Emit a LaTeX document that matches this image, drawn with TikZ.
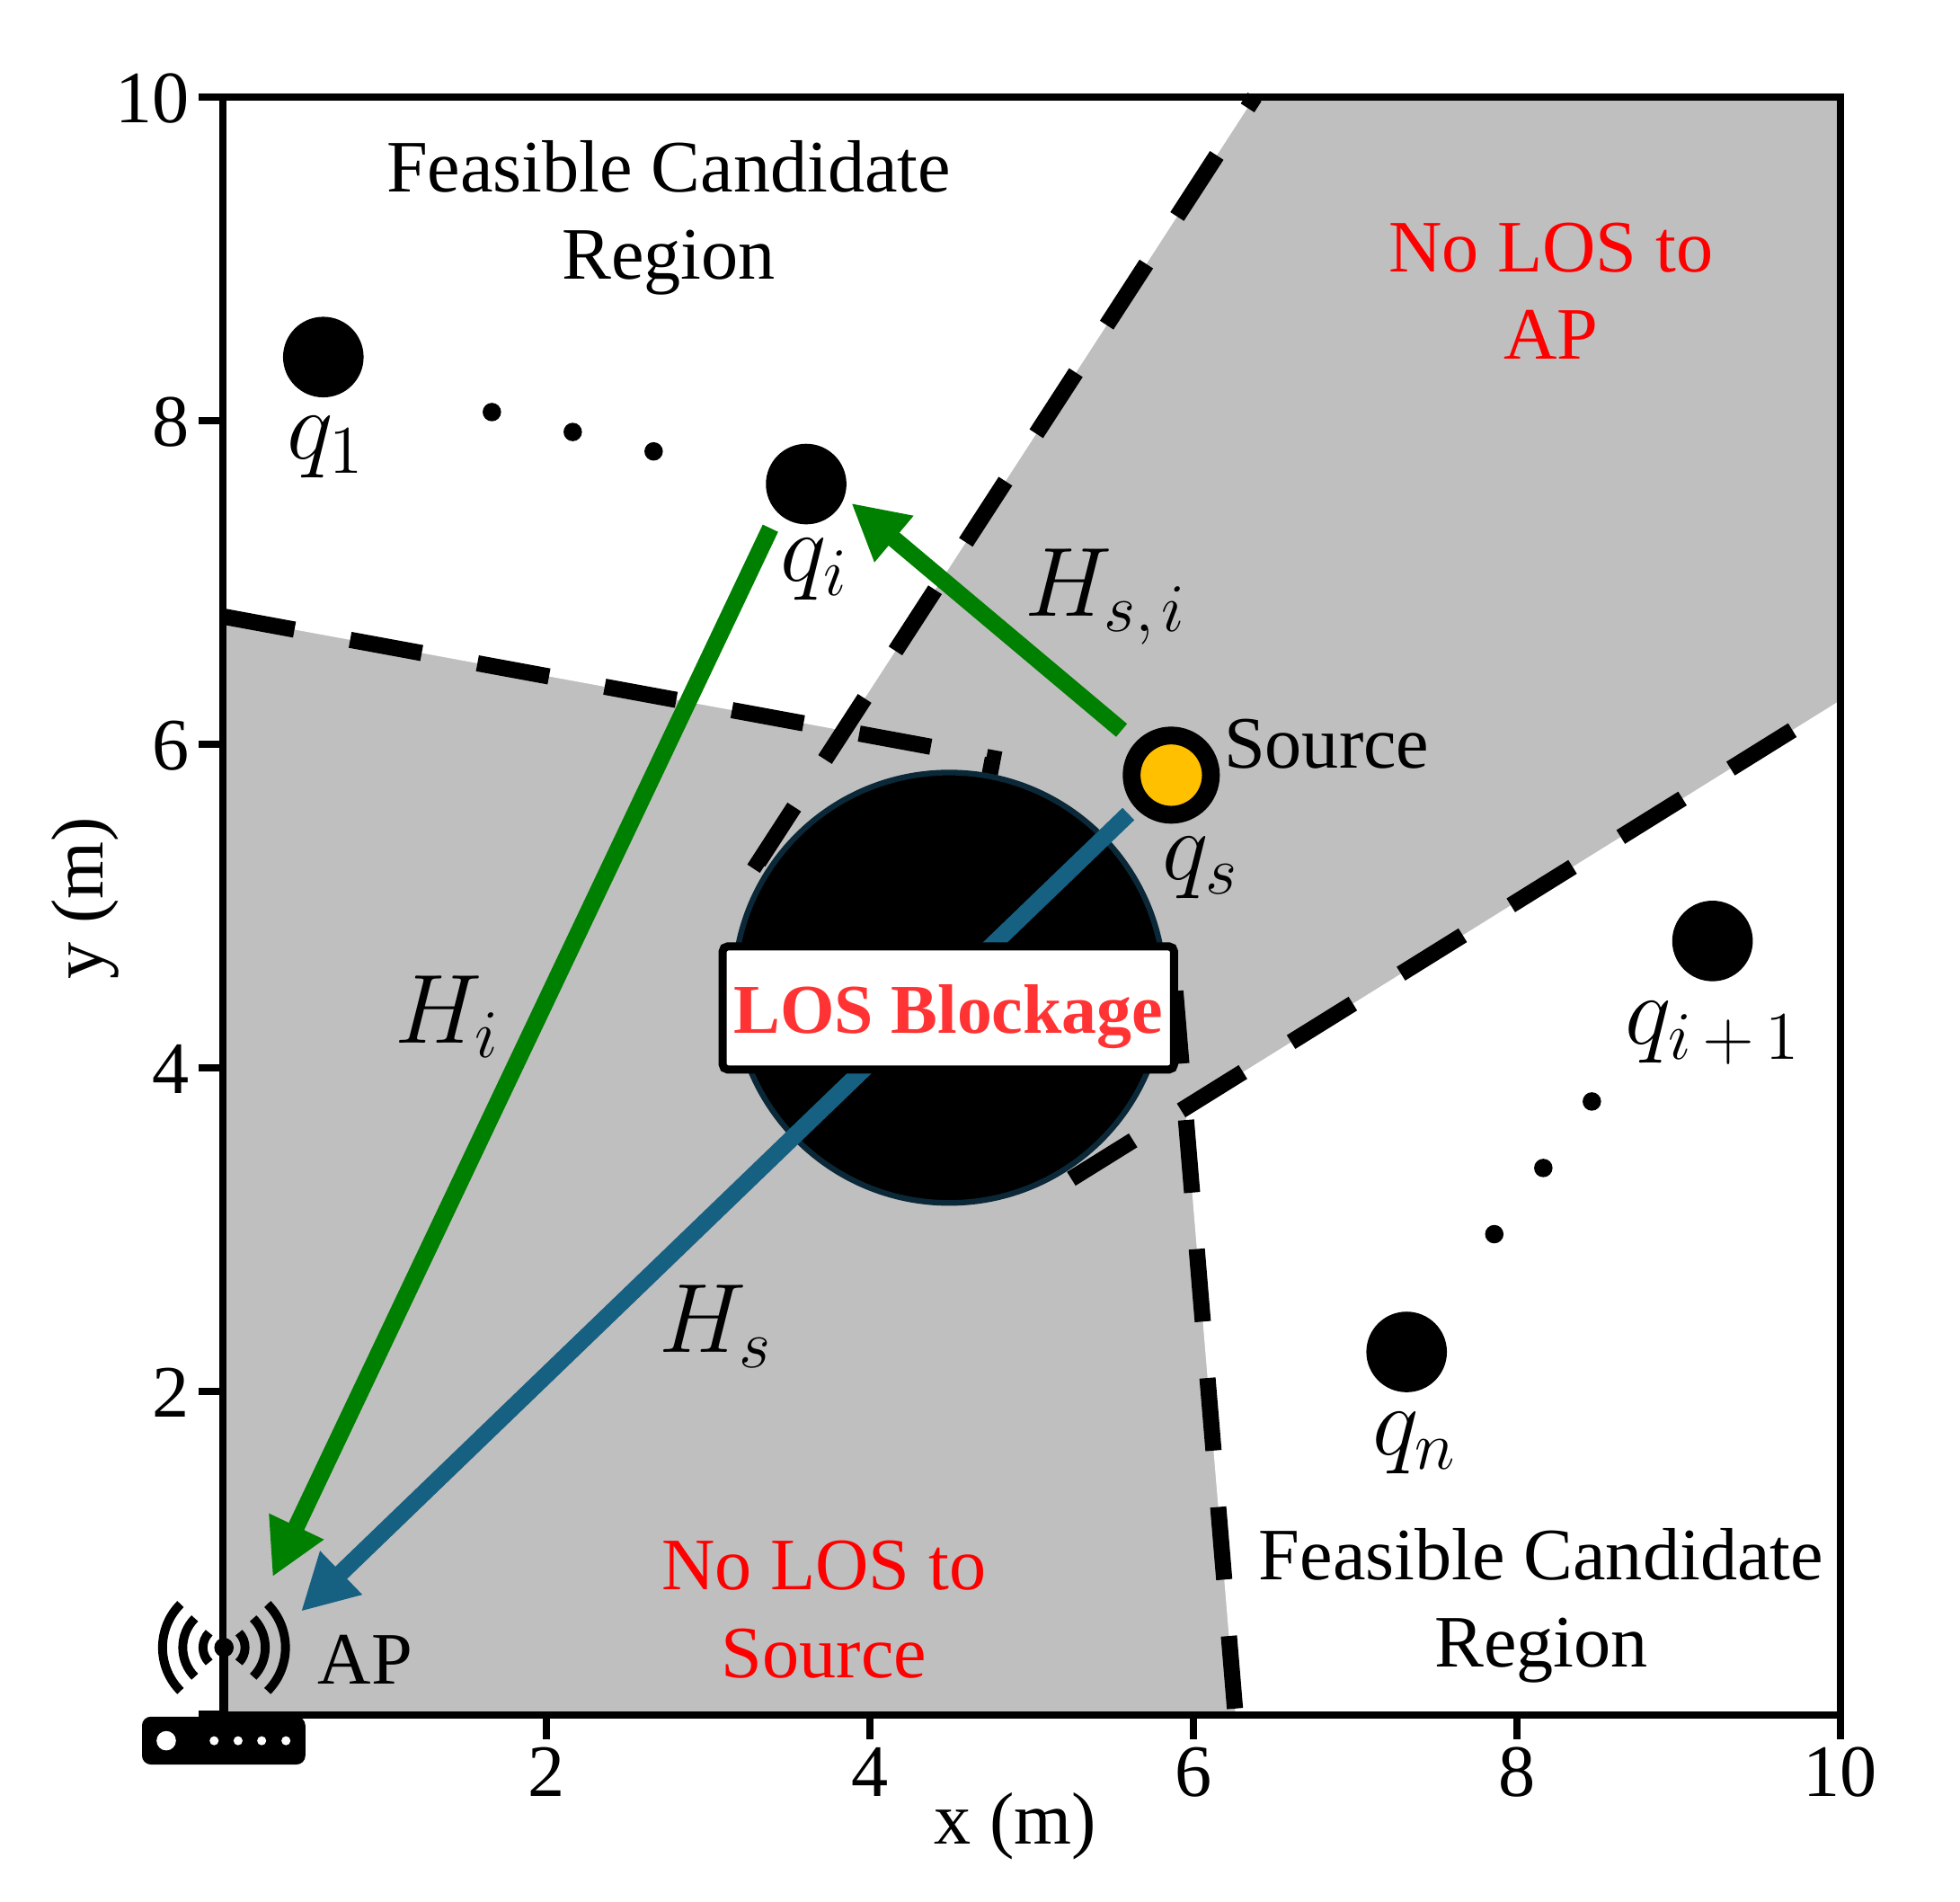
\documentclass[tikz,border=0pt]{standalone}
\usepackage[no-math]{fontspec}
\setmainfont{Liberation Serif}
\usetikzlibrary{arrows.meta}
\definecolor{regiongray}{RGB}{191,191,191}
\definecolor{losgreen}{RGB}{0,128,0}
\definecolor{losblue}{RGB}{22,96,130}
\definecolor{losred}{RGB}{255,51,51}
\definecolor{srcyellow}{RGB}{255,192,0}
\definecolor{navyedge}{RGB}{10,40,55}
\begin{document}
\begin{tikzpicture}[x=1cm,y=1cm,
  txt/.style={font=\fontsize{13}{15.4}\selectfont, inner sep=0pt},
  mathlbl/.style={font=\fontsize{17}{20}\selectfont, inner sep=0pt},
  boundary/.style={line width=0.1cm, dash pattern=on 0.45cm off 0.35cm},
  link/.style={line width=0.105cm, -{Triangle[length=0.345cm,width=0.35cm]}},
  cand/.style={circle, fill=black, inner sep=0pt, minimum size=0.498cm},
  mini/.style={circle, fill=black, inner sep=0pt, minimum size=0.114cm},
  srcmark/.style={circle, draw=black, line width=0.11cm, fill=srcyellow, inner sep=0pt, minimum size=0.49cm},
  frame/.style={line width=0.045cm},
  icon/.style={line width=0.055cm}
]
\useasboundingbox (-1.3778,-1.1556) rectangle (10.7389,10.6);

% regions
\fill[regiongray] (0,0) rectangle (10,10);
\fill[white] (0,10) -- (6.378,10) -- (3.838,6.084) -- (0,6.79) -- cycle;
\fill[white] (6.26,0) -- (10,0) -- (10,6.272) -- (5.949,3.751) -- cycle;

% shadow boundaries
\draw[boundary] (0,6.79) -- (4.76,5.914) -- (4.49,4.495);
\draw[boundary, dash phase=0.76cm] (6.26,0) -- (5.886,4.5);
\draw[boundary, dash phase=0.37cm] (6.378,10) -- (3.311,5.271) -- (4.49,4.495);
\draw[boundary, dash phase=0.45cm] (10,6.272) -- (5.240,3.311) -- (4.49,4.495);

% obstacle
\node[circle, fill=black, draw=navyedge, line width=0.035cm, minimum size=2.66cm, inner sep=0pt] (block) at (4.49,4.495) {};

% links
\coordinate (HsTail) at (5.598,5.569);
\coordinate (HsTip) at (0.483,0.64);
\coordinate (HsiTail) at (5.556,6.086);
\coordinate (HsiTip) at (3.885,7.49);
\coordinate (HiTail) at (3.385,7.335);
\coordinate (HiTip) at (0.307,0.854);
\draw[link, losblue] (HsTail) -- (HsTip);
\draw[link, losgreen] (HsiTail) -- (HsiTip);
\draw[link, losgreen] (HiTail) -- (HiTip);

% blockage label
\node[draw, fill=white, line width=0.05cm, rounded corners=0.03cm, minimum width=2.79cm, minimum height=0.76cm, inner sep=0pt, text height=0.36cm, text depth=0.05cm, text=losred, font=\bfseries\fontsize{12.3}{14}\selectfont] (box) at (4.485,4.37) {LOS Blockage};

% candidate points
\node[cand] (q1) at (0.621,8.393) {};
\node[cand] (qi) at (3.606,7.608) {};
\node[cand] (qip) at (9.209,4.784) {};
\node[cand] (qn) at (7.318,2.244) {};
\node[mini] (d1) at (1.663,8.053) {};
\node[mini] (d2) at (2.163,7.930) {};
\node[mini] (d3) at (2.663,7.810) {};
\node[mini] (d4) at (8.463,3.792) {};
\node[mini] (d5) at (8.163,3.381) {};
\node[mini] (d6) at (7.860,2.972) {};
\node[srcmark] (src) at (5.863,5.809) {};

% math labels
\node[mathlbl, anchor=base] (lq1) at (0.64,7.764) {$q_1$};
\node[mathlbl, anchor=base] (lqi) at (3.66,7.01) {$q_i$};
\node[mathlbl, anchor=base] (lqs) at (6.048,5.164) {$q_s$};
\node[mathlbl, anchor=base] (lqip) at (9.215,4.145) {$q_{i\mkern3mu+\mkern3mu1}$};
\node[mathlbl, anchor=base] (lqn) at (7.37,1.61) {$q_n$};
\node[mathlbl, anchor=base] (lHsi) at (5.46,6.79) {$H_{s,\mkern2mu i}$};
\node[mathlbl, anchor=base] (lHi) at (1.39,4.155) {$H_i$};
\node[mathlbl, anchor=base] (lHs) at (3.05,2.24) {$H_s$};

% region texts (anchor base = baseline of the last line)
\node[txt, align=center, anchor=base] (fcr1) at (2.757,8.873) {Feasible Candidate\\Region};
\node[txt, align=center, anchor=base, text=red] (nlap) at (8.21,8.38) {No LOS to\\AP};
\node[txt, align=center, anchor=base, text=red] (nlsrc) at (3.716,0.233) {No LOS to\\Source};
\node[txt, align=center, anchor=base] (fcr2) at (8.15,0.295) {Feasible Candidate\\Region};
\node[txt, anchor=base] (aplbl) at (0.88,0.19) {AP};
\node[txt, anchor=base] (srclbl) at (6.824,5.852) {Source};

% axes
\draw[frame] (0,0) rectangle (10,10);
\foreach \v in {2,4,6,8,10} {
  \draw[frame] (\v,0) -- (\v,-0.15);
  \draw[frame] (0,\v) -- (-0.15,\v);
  \node[txt, anchor=base] at (\v,-0.505) {\v};
  \node[txt, anchor=base east] at (-0.2,\v-0.156) {\v};
}
\node[txt, anchor=base] (xlbl) at (4.9,-0.80) {x (m)};
\node[txt, anchor=base, rotate=90] (ylbl) at (-0.74,5.05) {y (m)};

% AP icon
\fill[rounded corners=0.055cm] (-0.5,-0.306) rectangle (0.51,-0.01);
\fill (-0.15,-0.02) rectangle (0.035,0.026);
\fill (-0.022,-0.02) rectangle (0.036,0.417);
\fill (0.007,0.417) circle (0.06);
\fill[white] (-0.35,-0.159) circle (0.06);
\foreach \hx in {-0.054,0.094,0.24,0.39} {\fill[white] (\hx,-0.159) circle (0.028);}
\foreach \r in {0.13,0.255,0.38} {
  \draw[icon] ([shift={(0.007,0.417)}]135:\r) arc[start angle=135, end angle=225, radius=\r];
  \draw[icon] ([shift={(0.007,0.417)}]-45:\r) arc[start angle=-45, end angle=45, radius=\r];
}
\end{tikzpicture}
\end{document}
